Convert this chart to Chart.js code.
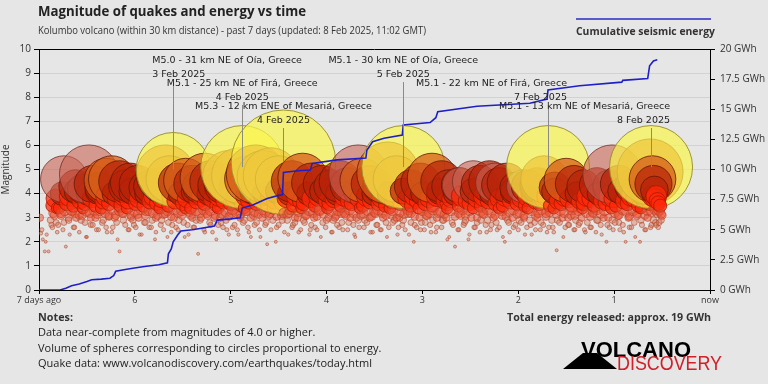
<!DOCTYPE html>
<html>
<head>
<meta charset="utf-8">
<script src="https://cdn.jsdelivr.net/npm/chart.js@4/dist/chart.umd.min.js"></script>
<style>
  html, body { margin: 0; padding: 0; background: #e6e6e6; }
  #wrap { width: 768px; height: 384px; }
</style>
</head>
<body>
<div id="wrap"><canvas id="quakeChart" width="768" height="384"></canvas></div>
<script>
// x values are days before "now" (negative), y is magnitude
const xTicks = [-7, -6, -5, -4, -3, -2, -1, 0];

// labelled M5+ quakes
const namedDays = [-5.60, -4.88, -4.45, -3.20, -1.69, -0.615];
const namedMags = [5.0, 5.1, 5.3, 5.1, 5.1, 5.1];
const namedPlaces = [
  "M5.0 - 31 km NE of Oía, Greece",
  "M5.1 - 25 km NE of Firá, Greece",
  "M5.3 - 12 km ENE of Mesariá, Greece",
  "M5.1 - 30 km NE of Oía, Greece",
  "M5.1 - 22 km NE of Firá, Greece",
  "M5.1 - 13 km NE of Mesariá, Greece"
];
const namedDates = ["3 Feb 2025", "4 Feb 2025", "4 Feb 2025", "5 Feb 2025", "7 Feb 2025", "8 Feb 2025"];
const namedAlign = ["left", "center", "center", "center", "right", "right"];

// other quakes M4.0+
const bigDays = [-6.62,-6.55,-6.44,-6.36,-6.30,-6.24,-6.16,-6.10,-6.05,-5.97,
  -5.90,-5.84,-5.74,-5.68,-5.64,-5.55,-5.47,-5.40,-5.33,-5.27,
  -5.21,-5.16,-5.10,-5.02,-4.95,-4.91,-4.82,-4.74,-4.66,-4.58,
  -4.50,-4.36,-4.25,-4.16,-4.05,-3.96,-3.86,-3.78,-3.63,-3.55,
  -3.45,-3.36,-3.27,-3.12,-3.02,-2.90,-2.80,-2.73,-2.62,-2.40,
  -2.30,-2.20,-2.12,-2.03,-1.90,-1.80,-1.73,-1.62,-1.50,-1.42,
  -1.32,-1.18,-1.05,-0.95,-0.82,-0.70,-0.625,-0.60,-0.59,-0.58];
const bigMags = [4.3,4.2,4.4,4.25,4.55,4.6,4.5,4.3,4.45,4.4,
  4.25,4.3,4.35,4.8,4.6,4.45,4.55,4.4,4.3,4.65,
  4.5,4.35,4.3,4.7,4.3,4.75,4.6,4.8,4.7,4.75,
  4.6,4.5,4.65,4.45,4.4,4.3,4.5,4.35,4.55,4.4,
  4.3,4.85,4.6,4.3,4.45,4.65,4.5,4.3,4.35,4.4,
  4.5,4.35,4.45,4.25,4.3,4.35,4.6,4.25,4.55,4.4,
  4.3,4.35,4.3,4.4,4.3,4.25,4.9,4.6,4.4,4.15];

// farther quakes (drawn paler)
const farDays = [-6.74, -6.48, -3.67, -2.61, -2.47, -2.24, -1.95, -1.02];
const farMags = [4.6, 4.8, 4.8, 4.35, 4.5, 4.45, 4.3, 4.8];

// M3.4 - 4.1
const midDays = [-6.86,-6.83,-6.79,-6.76,-6.71,-6.68,-6.64,-6.60,-6.57,-6.52,
  -6.49,-6.45,-6.41,-6.38,-6.33,-6.30,-6.27,-6.22,-6.19,-6.15,
  -6.11,-6.07,-6.03,-5.99,-5.96,-5.91,-5.88,-5.84,-5.80,-5.77,
  -5.72,-5.69,-5.65,-5.61,-5.58,-5.53,-5.50,-5.46,-5.42,-5.38,
  -5.35,-5.30,-5.27,-5.23,-5.19,-5.15,-5.12,-5.07,-5.04,-5.00,
  -4.96,-4.92,-4.89,-4.84,-4.81,-4.77,-4.73,-4.70,-4.65,-4.62,
  -4.58,-4.54,-4.50,-4.47,-4.42,-4.39,-4.35,-4.31,-4.27,-4.24,
  -4.19,-4.16,-4.12,-4.08,-4.04,-4.00,-3.97,-3.92,-3.89,-3.85,
  -3.81,-3.77,-3.74,-3.69,-3.66,-3.62,-3.58,-3.54,-3.51,-3.46,
  -3.43,-3.39,-3.35,-3.31,-3.28,-3.23,-3.20,-3.16,-3.12,-3.08,
  -3.05,-3.00,-2.97,-2.93,-2.89,-2.85,-2.82,-2.77,-2.74,-2.70,
  -2.66,-2.62,-2.59,-2.54,-2.51,-2.47,-2.43,-2.39,-2.36,-2.31,
  -2.28,-2.24,-2.20,-2.16,-2.13,-2.08,-2.05,-2.01,-1.97,-1.93,
  -1.90,-1.85,-1.82,-1.78,-1.74,-1.70,-1.67,-1.62,-1.59,-1.55,
  -1.51,-1.47,-1.44,-1.39,-1.36,-1.32,-1.28,-1.24,-1.21,-1.16,
  -1.13,-1.09,-1.05,-1.01,-0.98,-0.93,-0.90,-0.86,-0.82,-0.78,
  -0.75,-0.70,-0.67,-0.63,-0.60,-0.58,-0.56,-0.55,-0.54,-0.52];
const midMags = [3.5,3.8,3.4,4.0,3.6,3.9,3.5,4.1,3.7,3.6,
  4.0,3.8,3.5,4.1,3.7,3.9,3.6,4.0,3.8,3.5,
  3.9,3.7,4.1,3.6,3.8,3.5,4.0,3.7,3.9,3.6,
  3.8,4.1,3.5,3.9,3.7,4.0,3.6,3.8,3.4,4.1,
  3.7,3.9,3.6,4.0,3.8,3.5,3.9,3.7,4.1,3.6,
  3.8,4.0,3.5,3.9,3.7,4.1,3.6,3.8,4.0,3.5,
  3.9,3.7,4.1,3.6,3.8,4.0,3.5,3.9,3.7,3.6,
  4.0,3.8,3.5,3.9,4.1,3.7,3.6,3.8,4.0,3.5,
  3.9,3.7,3.6,4.1,3.8,3.5,3.9,3.7,4.0,3.6,
  3.8,3.5,4.0,3.7,3.9,3.6,4.1,3.8,3.5,3.9,
  3.7,4.0,3.6,3.8,3.5,3.9,4.1,3.7,3.6,3.8,
  4.0,3.5,3.9,3.7,3.6,4.1,3.8,3.5,3.9,3.7,
  4.0,3.6,3.8,3.5,3.9,3.7,4.1,3.6,3.8,3.5,
  3.9,4.0,3.7,3.6,3.8,3.9,3.5,4.1,3.7,3.6,
  3.9,3.8,3.5,4.0,3.7,3.6,3.9,3.8,3.5,4.0,
  3.7,3.6,3.9,3.8,3.5,4.1,3.7,3.6,3.9,3.8,
  3.5,4.0,3.7,3.6,3.9,3.8,3.9,3.7,3.6,3.5];

// M3.0 - 3.45
const lowDays = [-6.85,-6.81,-6.77,-6.73,-6.69,-6.66,-6.62,-6.58,-6.54,-6.50,
  -6.46,-6.42,-6.39,-6.35,-6.31,-6.27,-6.23,-6.20,-6.16,-6.12,
  -6.08,-6.04,-6.00,-5.97,-5.93,-5.89,-5.85,-5.81,-5.78,-5.74,
  -5.70,-5.66,-5.62,-5.59,-5.55,-5.51,-5.47,-5.43,-5.40,-5.36,
  -5.32,-5.28,-5.24,-5.21,-5.17,-5.13,-5.09,-5.05,-5.02,-4.98,
  -4.94,-4.90,-4.86,-4.83,-4.79,-4.75,-4.71,-4.67,-4.64,-4.60,
  -4.56,-4.52,-4.48,-4.45,-4.41,-4.37,-4.33,-4.29,-4.26,-4.22,
  -4.18,-4.14,-4.10,-4.07,-4.03,-3.99,-3.95,-3.91,-3.88,-3.84,
  -3.80,-3.76,-3.72,-3.69,-3.65,-3.61,-3.57,-3.53,-3.50,-3.46,
  -3.42,-3.38,-3.34,-3.31,-3.27,-3.23,-3.19,-3.15,-3.12,-3.08,
  -3.04,-3.00,-2.96,-2.93,-2.89,-2.85,-2.81,-2.77,-2.74,-2.70,
  -2.66,-2.62,-2.58,-2.55,-2.51,-2.47,-2.43,-2.39,-2.36,-2.32,
  -2.28,-2.24,-2.20,-2.17,-2.13,-2.09,-2.05,-2.01,-1.98,-1.94,
  -1.90,-1.86,-1.82,-1.79,-1.75,-1.71,-1.67,-1.63,-1.60,-1.56,
  -1.52,-1.48,-1.44,-1.41,-1.37,-1.33,-1.29,-1.25,-1.22,-1.18,
  -1.14,-1.10,-1.06,-1.03,-0.99,-0.95,-0.91,-0.87,-0.84,-0.80,
  -0.76,-0.72,-0.68,-0.65,-0.61,-0.57,-0.55,-0.53,-0.51,-0.50];
const lowMags = [3.2,3.4,3.1,3.3,3.0,3.35,3.2,3.1,3.4,3.25,
  3.0,3.3,3.15,3.4,3.2,3.05,3.35,3.1,3.3,3.2,
  3.4,3.0,3.25,3.15,3.35,3.1,3.3,3.2,3.0,3.4,
  3.15,3.3,3.05,3.35,3.2,3.1,3.4,3.25,3.0,3.3,
  3.2,3.35,3.1,3.3,3.0,3.4,3.15,3.25,3.05,3.35,
  3.2,3.1,3.4,3.3,3.0,3.25,3.15,3.35,3.2,3.1,
  3.4,3.05,3.3,3.2,3.15,3.35,3.0,3.25,3.4,3.1,
  3.3,3.2,3.05,3.35,3.15,3.4,3.25,3.0,3.3,3.2,
  3.1,3.35,3.2,3.0,3.4,3.15,3.3,3.05,3.25,3.35,
  3.2,3.1,3.4,3.3,3.0,3.25,3.15,3.35,3.2,3.05,
  3.4,3.3,3.1,3.2,3.35,3.0,3.25,3.15,3.4,3.3,
  3.05,3.2,3.35,3.1,3.3,3.4,3.0,3.25,3.15,3.35,
  3.2,3.1,3.4,3.3,3.05,3.25,3.35,3.15,3.2,3.0,
  3.4,3.3,3.1,3.2,3.35,3.05,3.25,3.4,3.15,3.3,
  3.2,3.0,3.35,3.1,3.3,3.4,3.2,3.05,3.25,3.35,
  3.15,3.3,3.0,3.4,3.2,3.1,3.35,3.25,3.05,3.3,
  3.2,3.4,3.1,3.3,3.25,3.35,3.2,3.3,3.15,3.1];

// below M3.4
const smallDays = [-6.99,-6.98,-6.96,-6.94,-6.92,-6.90,-6.88,-6.86,-6.84,-6.82,
  -6.80,-6.77,-6.75,-6.72,-6.69,-6.66,-6.64,-6.61,-6.58,-6.55,
  -6.52,-6.50,-6.47,-6.44,-6.41,-6.38,-6.36,-6.33,-6.30,-6.27,
  -6.24,-6.21,-6.19,-6.16,-6.13,-6.10,-6.07,-6.04,-6.02,-5.99,
  -5.96,-5.93,-5.90,-5.88,-5.85,-5.82,-5.79,-5.76,-5.73,-5.70,
  -5.68,-5.65,-5.62,-5.59,-5.57,-5.54,-5.51,-5.48,-5.45,-5.42,
  -5.39,-5.36,-5.34,-5.31,-5.28,-5.25,-5.22,-5.19,-5.16,-5.13,
  -5.11,-5.08,-5.05,-5.02,-4.99,-4.96,-4.93,-4.90,-4.87,-4.85,
  -4.82,-4.79,-4.76,-4.73,-4.70,-4.67,-4.64,-4.62,-4.59,-4.56,
  -4.53,-4.50,-4.47,-4.44,-4.41,-4.39,-4.36,-4.33,-4.30,-4.27,
  -4.24,-4.21,-4.18,-4.16,-4.13,-4.10,-4.07,-4.04,-4.01,-3.98,
  -3.95,-3.93,-3.90,-3.87,-3.84,-3.81,-3.78,-3.75,-3.72,-3.70,
  -3.67,-3.64,-3.61,-3.58,-3.55,-3.52,-3.49,-3.47,-3.44,-3.41,
  -3.38,-3.35,-3.32,-3.29,-3.26,-3.24,-3.21,-3.18,-3.15,-3.12,
  -3.09,-3.06,-3.03,-3.01,-2.98,-2.95,-2.92,-2.89,-2.86,-2.83,
  -2.80,-2.78,-2.75,-2.72,-2.69,-2.66,-2.63,-2.60,-2.57,-2.55,
  -2.52,-2.49,-2.46,-2.43,-2.40,-2.37,-2.34,-2.32,-2.29,-2.26,
  -2.23,-2.20,-2.17,-2.14,-2.11,-2.09,-2.06,-2.03,-2.00,-1.97,
  -1.94,-1.91,-1.88,-1.86,-1.83,-1.80,-1.77,-1.74,-1.71,-1.68,
  -1.65,-1.63,-1.60,-1.57,-1.54,-1.51,-1.48,-1.45,-1.42,-1.40,
  -1.37,-1.34,-1.31,-1.28,-1.25,-1.22,-1.19,-1.17,-1.14,-1.11,
  -1.08,-1.05,-1.02,-0.99,-0.96,-0.94,-0.91,-0.88,-0.85,-0.82,
  -0.79,-0.76,-0.73,-0.71,-0.68,-0.65,-0.62,-0.59,-0.56,-0.53];
const smallMags = [3.0,2.35,2.1,1.6,2.3,1.6,2.9,2.6,3.1,2.8,
  2.7,3.2,2.5,1.8,2.9,3.3,2.6,3.0,2.4,3.1,
  2.8,2.2,3.2,2.7,3.0,2.5,3.3,2.9,2.6,3.1,
  2.4,3.0,2.8,1.6,3.2,2.7,2.5,3.1,2.9,2.6,
  3.0,2.3,2.8,3.3,2.6,2.9,2.1,3.1,2.7,2.5,
  3.2,2.8,2.4,3.0,2.6,2.9,3.3,2.2,2.7,3.1,
  2.6,2.9,1.5,3.0,2.5,3.2,2.8,2.4,3.1,2.7,
  3.0,2.6,2.9,2.3,3.2,2.7,2.5,3.0,2.8,3.3,
  2.6,2.2,3.1,2.8,2.5,3.0,2.7,1.9,3.2,2.9,
  2.0,2.7,3.1,2.4,2.9,3.2,2.6,2.8,3.0,2.5,
  2.9,3.1,2.3,2.7,3.0,2.5,3.3,2.8,2.6,3.0,
  2.4,2.9,3.1,2.6,2.8,3.2,2.5,3.0,2.7,2.2,
  2.9,3.1,2.6,2.8,3.0,2.4,3.2,2.7,2.5,3.0,
  2.8,2.6,3.1,2.9,2.3,3.0,2.7,2.5,3.2,2.8,
  2.0,2.6,3.0,2.8,2.5,3.1,2.7,2.9,2.4,3.2,
  2.6,2.9,3.0,2.2,2.8,1.8,2.5,3.1,2.7,2.9,
  2.1,3.0,2.6,2.8,2.4,3.2,2.7,2.9,2.5,3.0,
  2.8,2.6,3.1,2.0,2.9,2.4,3.0,2.7,2.5,2.8,
  3.1,2.6,2.9,2.3,2.8,3.0,2.5,2.7,3.2,2.6,
  2.9,2.4,1.65,2.8,3.0,2.6,2.7,3.1,2.5,2.9,
  2.7,3.0,2.5,2.8,2.6,3.2,2.4,2.9,2.7,3.0,
  2.0,2.6,2.9,2.8,3.1,2.5,2.7,2.0,3.0,2.6,
  2.8,3.1,2.0,2.7,2.5,3.0,2.6,2.9,2.7,2.8];

// more of the small scatter, M2.0 - 2.9
const tinyDays = [-6.97,-6.93,-6.87,-6.81,-6.74,-6.68,-6.63,-6.56,-6.51,-6.46,
  -6.40,-6.34,-6.29,-6.23,-6.18,-6.12,-6.06,-6.01,-5.95,-5.89,
  -5.83,-5.78,-5.72,-5.66,-5.61,-5.55,-5.49,-5.44,-5.38,-5.32,
  -5.27,-5.21,-5.15,-5.10,-5.04,-4.98,-4.92,-4.86,-4.81,-4.75,
  -4.69,-4.63,-4.58,-4.52,-4.46,-4.40,-4.35,-4.29,-4.23,-4.17,
  -4.12,-4.06,-4.00,-3.94,-3.89,-3.83,-3.77,-3.71,-3.66,-3.60,
  -3.54,-3.48,-3.43,-3.37,-3.31,-3.25,-3.20,-3.14,-3.08,-3.02,
  -2.97,-2.91,-2.85,-2.79,-2.74,-2.68,-2.62,-2.56,-2.51,-2.45,
  -2.39,-2.33,-2.28,-2.22,-2.16,-2.10,-2.05,-1.99,-1.93,-1.87,
  -1.82,-1.76,-1.70,-1.64,-1.59,-1.53,-1.47,-1.41,-1.36,-1.30,
  -1.24,-1.18,-1.13,-1.07,-1.01,-0.95,-0.90,-0.84,-0.78,-0.72,
  -0.67,-0.61,-0.57,-0.54,-0.51];
const tinyMags = [2.5,2.0,2.7,2.4,2.8,2.3,2.6,2.9,2.2,2.7,
  2.5,2.8,2.4,2.6,2.1,2.9,2.5,2.7,2.3,2.8,
  2.6,2.4,2.9,2.2,2.7,2.5,2.8,2.3,2.6,2.9,
  2.4,2.7,2.1,2.8,2.5,2.6,2.3,2.9,2.4,2.7,
  2.2,2.8,2.5,2.6,2.9,2.3,2.7,2.4,2.8,2.5,
  2.6,2.2,2.9,2.4,2.7,2.5,2.8,2.3,2.6,2.9,
  2.4,2.7,2.5,2.2,2.8,2.6,2.9,2.3,2.7,2.5,
  2.8,2.4,2.6,2.9,2.1,2.7,2.5,2.8,2.3,2.6,
  2.9,2.4,2.7,2.5,2.2,2.8,2.6,2.9,2.3,2.7,
  2.5,2.8,2.4,2.6,2.9,2.2,2.7,2.5,2.8,2.4,
  2.6,2.9,2.3,2.7,2.5,2.8,2.4,2.6,2.2,2.9,
  2.5,2.7,2.8,2.6,2.9];

// cumulative seismic energy, GWh
const energyDays = [-7.00,-6.78,-6.72,-6.66,-6.58,-6.50,-6.45,-6.35,-6.26,-6.22,
  -6.20,-6.10,-6.02,-5.90,-5.75,-5.66,-5.65,-5.62,-5.60,-5.55,
  -5.52,-5.40,-5.32,-5.17,-5.14,-5.00,-4.90,-4.88,-4.77,-4.62,
  -4.50,-4.46,-4.45,-4.30,-4.17,-4.15,-3.89,-3.59,-3.58,-3.52,
  -3.40,-3.21,-3.20,-2.92,-2.86,-2.84,-2.43,-1.88,-1.70,-1.69,
  -1.36,-0.92,-0.91,-0.65,-0.63,-0.59,-0.55];
const energyGWh = [0,0,0.15,0.35,0.5,0.7,0.85,0.9,0.98,1.2,
  1.55,1.7,1.8,1.95,2.1,2.25,3.0,3.4,4.0,4.6,
  4.9,5.0,5.1,5.3,5.8,5.9,6.0,6.8,7.05,7.6,
  7.85,7.9,9.75,9.9,9.95,10.5,10.8,10.95,11.6,12.3,
  12.6,12.85,13.7,13.9,14.3,14.8,15.25,15.5,15.85,16.6,
  16.95,17.25,17.4,17.55,18.6,19.0,19.1];

const noteLines = [
  "Data near-complete from magnitudes of 4.0 or higher.",
  "Volume of spheres corresponding to circles proportional to energy.",
  "Quake data: www.volcanodiscovery.com/earthquakes/today.html"
];

// sphere volume ~ energy, so radius ~ 10^(0.5*M)
function radiusFor(m) {
  return Math.max(1.5, 37 * Math.pow(10, 0.5 * (m - 5)));
}

const quakes = [];
function addQuakes(days, mags, far) {
  days.forEach((d, i) => quakes.push({ x: d, y: mags[i], r: radiusFor(mags[i]), far: far }));
}
addQuakes(namedDays, namedMags, false);
addQuakes(bigDays, bigMags, false);
addQuakes(farDays, farMags, true);
addQuakes(midDays, midMags, false);
addQuakes(lowDays, lowMags, false);
addQuakes(smallDays, smallMags, false);
addQuakes(tinyDays, tinyMags, false);
quakes.sort((a, b) => a.x - b.x); // later quakes drawn on top

function fillFor(q) {
  if (q.far) return "rgba(200,100,85,0.6)";
  const m = q.y;
  if (m >= 5) return "rgba(250,245,75,0.7)";
  if (m >= 4.55) return "rgba(215,95,25,0.75)";
  if (m >= 4.0) return "rgba(185,35,8,0.72)";
  if (m >= 3.4) return "rgba(255,40,10,0.75)";
  if (m >= 3.0) return "rgba(240,75,45,0.5)";
  return "rgba(215,110,80,0.4)";
}
function strokeFor(q) {
  if (q.far) return "rgba(120,45,35,0.8)";
  const m = q.y;
  if (m >= 5) return "rgba(150,140,40,0.9)";
  if (m >= 4.0) return "rgba(100,25,5,0.8)";
  if (m >= 3.4) return "rgba(170,25,0,0.8)";
  return "rgba(175,70,40,0.55)";
}

function drawText(ctx, text, x, y, font, color, align, maxW) {
  ctx.font = font;
  ctx.fillStyle = color;
  ctx.textAlign = align;
  ctx.textBaseline = "middle";
  if (maxW) ctx.fillText(text, x, y, maxW); else ctx.fillText(text, x, y);
}

const pagePlugin = {
  id: "page",
  beforeDraw(chart) {
    const ctx = chart.ctx;
    ctx.save();
    ctx.fillStyle = "#e6e6e6";
    ctx.fillRect(0, 0, chart.width, chart.height);
    ctx.restore();
  },
  afterDraw(chart) {
    const ctx = chart.ctx;
    const a = chart.chartArea;
    ctx.save();
    // top frame line
    ctx.strokeStyle = "#000";
    ctx.lineWidth = 1;
    ctx.beginPath();
    ctx.moveTo(a.left, a.top + 0.5);
    ctx.lineTo(a.right, a.top + 0.5);
    ctx.stroke();

    drawText(ctx, "Magnitude of quakes and energy vs time", 38, 12, "bold 14px 'Open Sans'", "#222", "left", 268);
    drawText(ctx, "Kolumbo volcano (within 30 km distance) - past 7 days (updated: 8 Feb 2025, 11:02 GMT)", 38, 31, "10.5px 'Open Sans'", "#333", "left", 388);

    // legend
    ctx.strokeStyle = "#2a2ac0";
    ctx.lineWidth = 1.5;
    ctx.beginPath();
    ctx.moveTo(576, 19);
    ctx.lineTo(711, 19);
    ctx.stroke();
    drawText(ctx, "Cumulative seismic energy", 576, 32, "bold 10.5px 'Open Sans'", "#333", "left", 139);

    // notes
    drawText(ctx, "Notes:", 38, 318, "bold 11px 'Open Sans'", "#333", "left", 35);
    const noteW = [282, 354, 342];
    noteLines.forEach((t, i) => drawText(ctx, t, 38, 333 + i * 15.5, "11px 'Open Sans'", "#222", "left", noteW[i]));
    drawText(ctx, "Total energy released: approx. 19 GWh", 711, 318, "bold 11px 'Open Sans'", "#333", "right", 204);

    // logo
    ctx.fillStyle = "#000";
    ctx.beginPath();
    ctx.moveTo(563, 369);
    ctx.lineTo(583, 353);
    ctx.lineTo(597, 353);
    ctx.lineTo(617, 369);
    ctx.closePath();
    ctx.fill();
    ctx.textBaseline = "alphabetic";
    ctx.textAlign = "left";
    ctx.font = "bold 22px 'Liberation Sans'";
    ctx.fillText("VOLCANO", 581, 357, 115);
    ctx.fillStyle = "#d0202a";
    ctx.font = "20px 'Liberation Sans'";
    ctx.fillText("DISCOVERY", 617, 370, 105);
    ctx.restore();
  },
  afterDatasetsDraw(chart) {
    const ctx = chart.ctx;
    const xs = chart.scales.x, ys = chart.scales.y;
    const top = chart.chartArea.top;
    ctx.save();
    const font = "9.5px 'DejaVu Sans'";
    namedDays.forEach((d, i) => {
      const px = xs.getPixelForValue(d);
      const py = ys.getPixelForValue(namedMags[i]);
      const row = i % 3;
      const ty = top + 12 + row * 23;
      const dy = ty + 14;
      ctx.font = font;
      const w = ctx.measureText(namedPlaces[i]).width;
      let left;
      if (namedAlign[i] === "left") left = px - 21;
      else if (namedAlign[i] === "right") left = px + 19 - w;
      else left = px - w / 2;
      ctx.strokeStyle = "#8a8a8a";
      ctx.lineWidth = 1;
      ctx.beginPath();
      ctx.moveTo(Math.round(px) + 0.5, dy + 7);
      ctx.lineTo(Math.round(px) + 0.5, py);
      ctx.stroke();
      drawText(ctx, namedPlaces[i], left, ty, font, "#222", "left");
      if (namedAlign[i] === "left") drawText(ctx, namedDates[i], left, dy, font, "#222", "left");
      else if (namedAlign[i] === "right") drawText(ctx, namedDates[i], left + w, dy, font, "#222", "right");
      else drawText(ctx, namedDates[i], px, dy, font, "#222", "center");
    });
    ctx.restore();
  }
};

new Chart(document.getElementById("quakeChart"), {
  type: "bubble",
  data: {
    datasets: [
      {
        type: "line",
        label: "Cumulative seismic energy",
        data: energyDays.map((d, i) => ({ x: d, y: energyGWh[i] })),
        yAxisID: "y2",
        borderColor: "#1f1fc8",
        borderWidth: 1.6,
        pointRadius: 0,
        tension: 0,
        fill: false,
        order: 0
      },
      {
        label: "Quakes",
        data: quakes,
        yAxisID: "y",
        backgroundColor: ctx => fillFor(ctx.raw),
        borderColor: ctx => strokeFor(ctx.raw),
        borderWidth: 1,
        order: 1
      }
    ]
  },
  options: {
    responsive: false,
    animation: false,
    events: [],
    layout: { autoPadding: false, padding: { top: 49, bottom: 72, left: 0, right: 0 } },
    plugins: { legend: { display: false }, tooltip: { enabled: false } },
    scales: {
      x: {
        type: "linear",
        min: -7,
        max: 0,
        afterBuildTicks: s => { s.ticks = xTicks.map(v => ({ value: v })); },
        afterFit: s => { s.height = 22; },
        ticks: {
          color: "#333",
          font: { family: "'Open Sans'", size: 9 },
          padding: 1,
          maxRotation: 0,
          callback: v => v === -7 ? "7 days ago" : (v === 0 ? "now" : String(-v))
        },
        grid: { drawOnChartArea: false, tickColor: "#000", tickLength: 4 },
        border: { color: "#000" }
      },
      y: {
        position: "left",
        min: 0,
        max: 10,
        afterFit: s => { s.width = 39; },
        ticks: { stepSize: 1, color: "#333", font: { family: "'Open Sans'", size: 10 }, padding: 3 },
        title: { display: true, text: "Magnitude", color: "#333", font: { family: "'Open Sans'", size: 10 }, padding: 0 },
        grid: { color: "#d2d2d2", tickColor: "#000", tickLength: 5 },
        border: { color: "#000" }
      },
      y2: {
        position: "right",
        min: 0,
        max: 20,
        afterFit: s => { s.width = 58; },
        ticks: {
          stepSize: 2.5,
          color: "#333",
          font: { family: "'Open Sans'", size: 10 },
          padding: 5,
          callback: v => v + " GWh"
        },
        grid: { drawOnChartArea: false, tickColor: "#000", tickLength: 5 },
        border: { color: "#000" }
      }
    }
  },
  plugins: [pagePlugin]
});
</script>
</body>
</html>
